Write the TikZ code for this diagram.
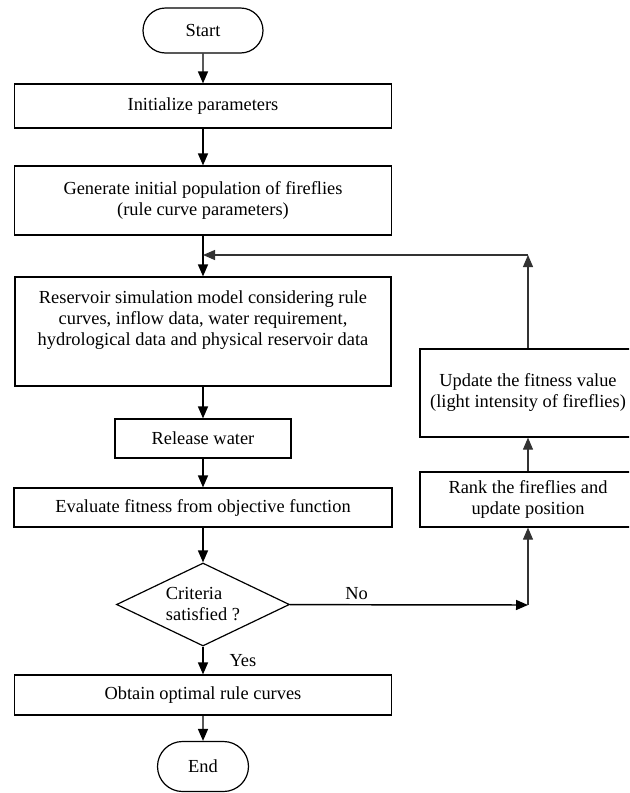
\documentclass[tikz,border=0pt]{standalone}
\usepackage{fontspec}
\setmainfont{Liberation Serif}
\usetikzlibrary{arrows.meta}
\usetikzlibrary{shapes.geometric}
\usetikzlibrary{shapes.misc}

\begin{document}
\begin{tikzpicture}[x=0.75pt, y=-0.75pt,
		every node/.style={font=\fontsize{13.8}{15.75}\selectfont},
		procbox/.style={draw, line width=0.9pt, align=center, inner sep=0pt},
		termbox/.style={draw, rounded rectangle, line width=0.9pt, inner sep=0pt},
		flow/.style={-{Triangle[length=9pt,width=7.5pt]}, line width=1.1pt},
		back/.style={-{Triangle[length=9pt,width=7.5pt]}, line width=0.8pt, black!80}
	]
		\clip (0,0) rectangle (629,793);

		% main column
		\node[termbox, minimum width=90pt, minimum height=33.75pt] (start) at (203,30.5) {Start};
		\node[procbox, minimum width=282.75pt, minimum height=33pt] (init) at (203,106) {Initialize parameters};
		\node[procbox, minimum width=282.75pt, minimum height=51.75pt] (gen) at (203,200.5)
			{Generate initial population of fireflies\\(rule curve parameters)};
		\node[procbox, minimum width=282pt, minimum height=81.75pt] (res) at (203,331.5)
			{Reservoir simulation model considering rule\\curves, inflow data, water requirement,\\hydrological data and physical reservoir data\\\strut};
		\node[procbox, minimum width=132pt, minimum height=29.25pt] (rel) at (203,438.5) {Release water};
		\node[procbox, minimum width=283.5pt, minimum height=29.25pt] (eval) at (203,507.5) {Evaluate fitness from objective function};
		\node[draw, diamond, aspect=2, line width=0.9pt, align=left, inner sep=0pt,
			minimum width=129.75pt, minimum height=62.25pt] (crit) at (203,604.5) {Criteria\\satisfied ?};
		\node[procbox, minimum width=282.75pt, minimum height=30pt] (opt) at (203,695) {Obtain optimal rule curves};
		\node[termbox, minimum width=68.25pt, minimum height=37.5pt] (end) at (203,766.5) {End};

		% update column
		\node[procbox, minimum width=162pt, minimum height=41.25pt] (rank) at (528,499.5)
			{Rank the fireflies and\\update position};
		\node[procbox, minimum width=162pt, minimum height=66pt] (upd) at (528,393)
			{Update the fitness value\\(light intensity of fireflies)};

		\coordinate (join) at (203,255);
		\coordinate (turn) at (528,255);
		\coordinate (no) at (528,605);

		% flow
		\draw[flow] (start) -- (init);
		\draw[flow] (init) -- (gen);
		\draw[flow] (gen) -- (res);
		\draw[flow] (res) -- (rel);
		\draw[flow] (rel) -- (eval);
		\draw[flow] (eval) -- (crit);
		\draw[flow] (crit) -- node[anchor=west, xshift=16pt] {Yes} (opt);
		\draw[flow] (opt) -- (end);

		% loop back
		\draw[flow] (crit) -- node[above, pos=0.28] {No} (no);
		\draw[back] (no) -- (rank);
		\draw[back] (rank) -- (upd);
		\draw[back] (upd) -- (turn);
		\draw[back] (turn) -- (join);
\end{tikzpicture}
\end{document}
